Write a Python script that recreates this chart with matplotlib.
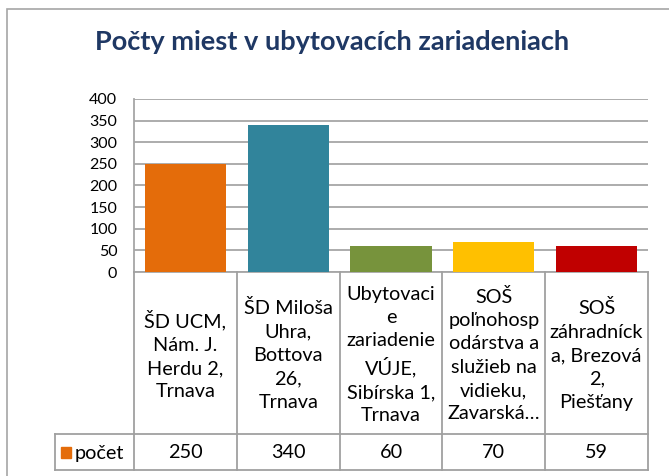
import matplotlib.pyplot as plt
from matplotlib.lines import Line2D
from matplotlib.patches import Rectangle

# data
categories = [
    "ŠD UCM,\nNám. J.\nHerdu 2,\nTrnava",
    "ŠD Miloša\nUhra,\nBottova\n26,\nTrnava",
    "Ubytovaci\ne\nzariadenie\nVÚJE,\nSibírska 1,\nTrnava",
    "SOŠ\npoľnohosp\nodárstva a\nslužieb na\nvidieku,\nZavarská…",
    "SOŠ\nzáhradníck\na, Brezová\n2,\nPiešťany",
]
values = [250, 340, 60, 70, 59]
series_name = "počet"
title = "Počty miest v ubytovacích zariadeniach"
colors = ["#E46C0A", "#31849B", "#77933C", "#FFC000", "#C00000"]

plt.rcParams['font.family'] = ['Lato', 'DejaVu Sans']

W, H = 669, 476
fig = plt.figure(figsize=(W / 100, H / 100), dpi=100)

def fx(px):
    return px / W

def fy(py):
    return 1 - py / H

# plot area in pixels
left, right, top, bottom = 134, 648, 99, 272
ax = fig.add_axes([fx(left), fy(bottom), fx(right) - fx(left), (bottom - top) / H])
x = list(range(len(values)))
ax.bar(x, values, width=0.79, color=colors, zorder=3)
ax.set_xlim(-0.5, len(values) - 0.5)
ax.set_ylim(0, 400)
ax.set_yticks(range(0, 401, 50))
ax.set_xticks([])
ax.tick_params(axis='y', length=0, labelsize=11.5, pad=12, colors='black')
ax.grid(axis='y', color='#A6A6A6', lw=1.3, zorder=0)
for s in ['top', 'right']:
    ax.spines[s].set_visible(False)
for s in ['left', 'bottom']:
    ax.spines[s].set_color('#A6A6A6')
    ax.spines[s].set_linewidth(1.3)

grey = '#A0A0A0'

def line(x0, y0, x1, y1):
    fig.add_artist(Line2D([fx(x0), fx(x1)], [fy(y0), fy(y1)], color=grey, lw=1.3))

# data table
col_w = (right - left) / len(values)
row_mid, table_bot = 434, 470
for k in range(len(values) + 1):
    line(left + k * col_w, bottom, left + k * col_w, table_bot)
line(55, row_mid, right, row_mid)
line(55, table_bot, right, table_bot)
line(55, row_mid, 55, table_bot)

for k, (cat, v) in enumerate(zip(categories, values)):
    cx = left + (k + 0.5) * col_w
    fig.text(fx(cx), fy(355), cat, ha='center', va='center', multialignment='center',
             fontsize=14.3, linespacing=1.45)
    fig.text(fx(cx), fy(453), str(v), ha='center', va='center', fontsize=14.3)

fig.add_artist(Rectangle((fx(61), fy(458)), 10 / W, 11 / H, color=colors[0],
                         transform=fig.transFigure))
fig.text(fx(75), fy(453), series_name, ha='left', va='center', fontsize=14.3)

fig.text(fx(332), fy(42), title, ha='center', va='center', fontsize=19.5,
         fontweight='bold', color='#1F3864')

# chart border
fig.add_artist(Rectangle((fx(7), -0.1), 1.2, fy(9) + 0.1, fill=False,
                         edgecolor='#A6A6A6', lw=1.2, transform=fig.transFigure))

fig.savefig('out.png', dpi=100)
